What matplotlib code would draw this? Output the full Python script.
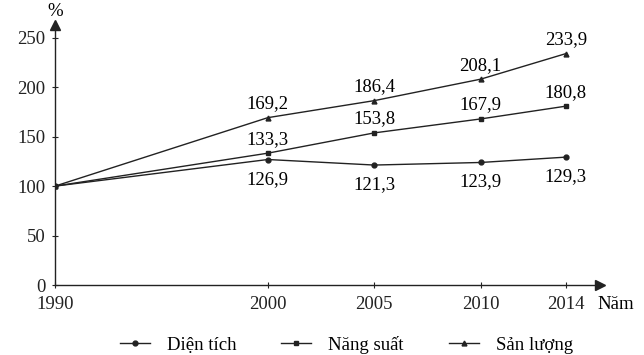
import matplotlib.pyplot as plt

years = [1990, 2000, 2005, 2010, 2014]
dien_tich = [100, 126.9, 121.3, 123.9, 129.3]
nang_suat = [100, 133.3, 153.8, 167.9, 180.8]
san_luong = [100, 169.2, 186.4, 208.1, 233.9]
y_ticks = [0, 50, 100, 150, 200, 250]

plt.rcParams['font.family'] = ['Liberation Serif', 'DejaVu Serif']
FS = 13.5

fig = plt.figure(figsize=(6.44, 3.55), dpi=100)
ax = fig.add_axes([0.0854, 0.197, 0.846, 0.733])
ax.set_xlim(1990, 2015.6)
ax.set_ylim(0, 263)

line_kw = dict(color='#222222', linewidth=1.0, markersize=3.5)
ax.plot(years, dien_tich, marker='o', label='Diện tích', **line_kw)
ax.plot(years, nang_suat, marker='s', label='Năng suất', **line_kw)
ax.plot(years, san_luong, marker='^', label='Sản lượng', **line_kw)


def fmt(v):
    return f'{v:.1f}'.replace('.', ',')


# value labels
for x, v in zip(years[1:], dien_tich[1:]):
    ax.annotate(fmt(v), (x, v), xytext=(0, -8), textcoords='offset points',
                ha='center', va='top', fontsize=FS)
for x, v in zip(years[1:], nang_suat[1:]):
    ax.annotate(fmt(v), (x, v), xytext=(0, 4), textcoords='offset points',
                ha='center', va='bottom', fontsize=FS)
for x, v in zip(years[1:], san_luong[1:]):
    ax.annotate(fmt(v), (x, v), xytext=(0, 4), textcoords='offset points',
                ha='center', va='bottom', fontsize=FS)

for s in ['top', 'right']:
    ax.spines[s].set_visible(False)
for s in ['left', 'bottom']:
    ax.spines[s].set_linewidth(1.0)
    ax.spines[s].set_color('#222222')

# arrow heads
ax.plot(1, 0, '>', color='#222222', markersize=7, transform=ax.transAxes, clip_on=False)
ax.plot(0, 1, '^', color='#222222', markersize=7, transform=ax.transAxes, clip_on=False)

ax.set_xticks(years)
ax.set_xticklabels([str(y) for y in years])
ax.set_yticks(y_ticks)
ax.tick_params(axis='both', direction='inout', length=4, width=0.8,
               labelsize=FS, colors='#222222')
ax.tick_params(axis='x', pad=6)
ax.tick_params(axis='y', pad=5)

ax.text(0, 1.02, '%', transform=ax.transAxes, ha='center', va='bottom', fontsize=FS)
ax.text(0.995, -0.075, 'Năm', transform=ax.transAxes, ha='left', va='center', fontsize=FS)

ax.legend(loc='upper center', bbox_to_anchor=(0.535, -0.13), ncol=3,
          frameon=False, fontsize=FS, handlelength=1.6, columnspacing=2.4,
          handletextpad=0.9)

fig.savefig('out.png', dpi=100)
